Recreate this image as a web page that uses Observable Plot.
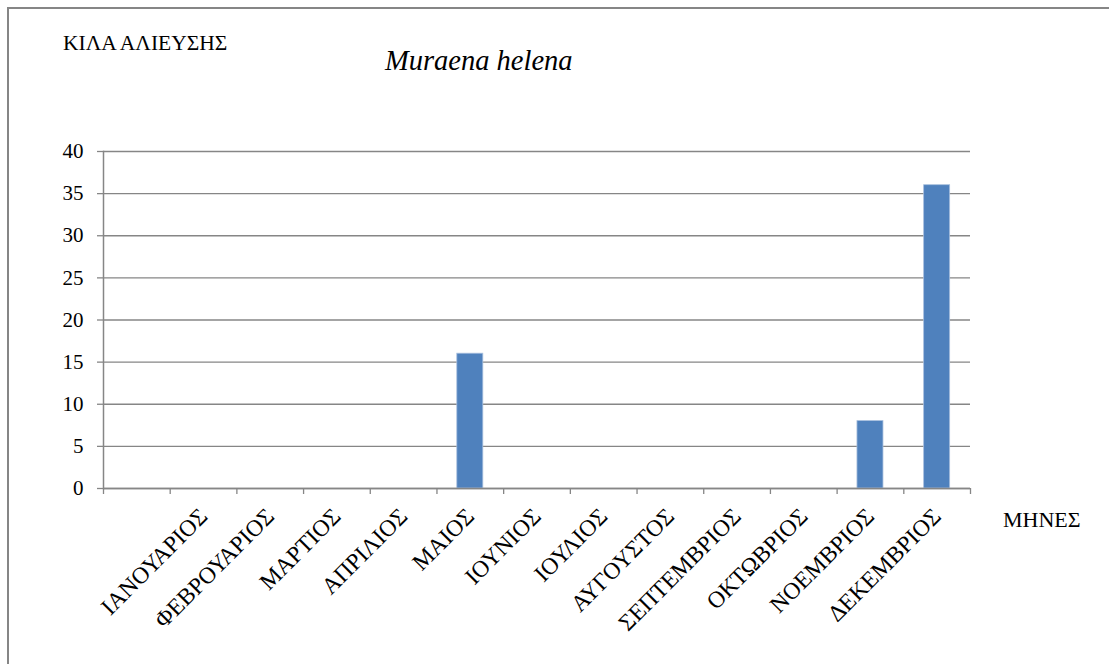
<!DOCTYPE html>
<html>
<head>
<meta charset="utf-8">
<script src="https://cdn.jsdelivr.net/npm/d3@7"></script>
<script src="https://cdn.jsdelivr.net/npm/@observablehq/plot@0.6"></script>
<style>
  html, body { margin: 0; padding: 0; background: #fff; overflow: hidden; }
  #wrap { position: relative; width: 1109px; height: 664px; font-family: "Liberation Serif", "DejaVu Serif", serif; color: #000; }
  #border { position: absolute; left: 7px; top: 7px; width: 1120px; height: 680px; border-left: 2px solid #868686; border-top: 2px solid #868686; box-sizing: border-box; }
  #ylabel { position: absolute; left: 63px; top: 31px; font-size: 21.5px; white-space: nowrap; }
  #title { position: absolute; left: 385px; top: 45px; font-size: 28.5px; font-style: italic; white-space: nowrap; }
  #xlabel { position: absolute; left: 1003px; top: 507px; font-size: 22px; white-space: nowrap; }
  #chart { position: absolute; left: 0; top: 0; }
</style>
</head>
<body>
<div id="wrap">
  <div id="chart"></div>
  <div id="border"></div>
  <div id="ylabel">ΚΙΛΑ ΑΛΙΕΥΣΗΣ</div>
  <div id="title">Muraena helena</div>
  <div id="xlabel">ΜΗΝΕΣ</div>
</div>
<script>
const months = ["", "ΙΑΝΟΥΑΡΙΟΣ", "ΦΕΒΡΟΥΑΡΙΟΣ", "ΜΑΡΤΙΟΣ", "ΑΠΡΙΛΙΟΣ", "ΜΑΙΟΣ", "ΙΟΥΝΙΟΣ", "ΙΟΥΛΙΟΣ", "ΑΥΓΟΥΣΤΟΣ", "ΣΕΠΤΕΜΒΡΙΟΣ", "ΟΚΤΩΒΡΙΟΣ", "ΝΟΕΜΒΡΙΟΣ", "ΔΕΚΕΜΒΡΙΟΣ"];
const catch_kg = [null, 0, 0, 0, 0, 16, 0, 0, 0, 0, 0, 8, 36];
const yTicks = [0, 5, 10, 15, 20, 25, 30, 35, 40];

const data = months.map((m, i) => ({month: m, value: catch_kg[i]}));

const W = 1109, H = 664;
const mL = 103, mR = 139, mT = 151, mB = 176;
const step = (W - mL - mR) / months.length;
const grey = "#868686";
const font = "'Liberation Serif', 'DejaVu Serif', serif";

const chart = Plot.plot({
  width: W,
  height: H,
  marginLeft: mL,
  marginRight: mR,
  marginTop: mT,
  marginBottom: mB,
  style: {fontFamily: font, fontSize: "20px", color: "#000", background: "transparent"},
  x: {domain: months, paddingInner: 0.61, paddingOuter: 0.305, round: false, label: null},
  y: {domain: [0, 40], label: null},
  marks: [
    Plot.gridY(yTicks, {stroke: grey, strokeOpacity: 1, strokeWidth: 1.3}),
    Plot.barY(data.filter(d => d.value), {x: "month", y: "value", fill: "#4F81BD", stroke: "#A7BFDE", strokeWidth: 0.8}),
    Plot.ruleY([0], {stroke: grey, strokeWidth: 1.5}),
    Plot.frame({anchor: "left", stroke: grey, strokeWidth: 1.5}),
    Plot.axisY(yTicks, {tickSize: 6, tickPadding: 14, stroke: grey, strokeWidth: 1.3, fill: "#000", fontSize: 21, label: null}),
    Plot.axisX(months, {tickSize: 6, dx: -step / 2, text: null, stroke: grey, strokeWidth: 1.3, label: null}),
    Plot.axisX([months[months.length - 1]], {tickSize: 6, dx: step / 2, text: null, stroke: grey, strokeWidth: 1.3, label: null}),
    Plot.axisX(months, {tickSize: 0, tickPadding: 24, tickRotate: -45, dx: 0, fill: "#000", fontSize: 23.5, label: null})
  ]
});
document.getElementById("chart").appendChild(chart);
</script>
</body>
</html>
